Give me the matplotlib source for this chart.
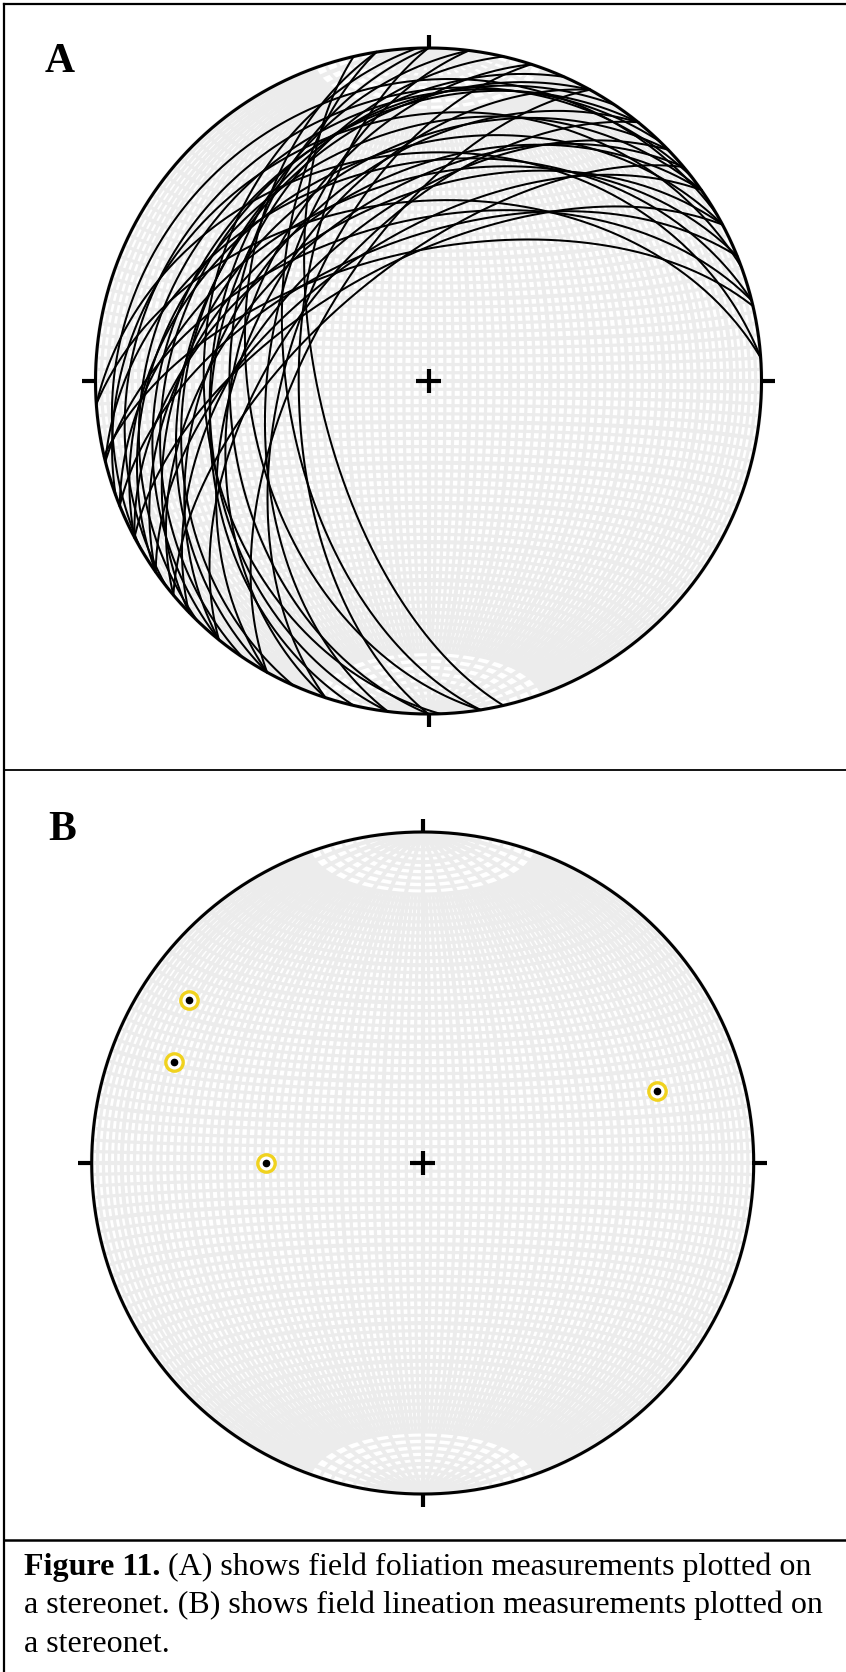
import numpy as np
import matplotlib
matplotlib.use("Agg")
import matplotlib.pyplot as plt
from matplotlib.lines import Line2D

# ---------------- data ----------------
# Panel A: foliation planes (right-hand-rule strike, dip)
foliation_strike = [167, 171, 171, 180, 180, 187, 187, 198, 198, 209, 209, 209,
                    219, 219, 219, 226, 226, 230, 230, 235, 235, 235, 242, 242,
                    242, 248, 248, 257, 256, 256, 266, 266,
                    240, 232, 250, 224, 214, 204, 193, 178]
foliation_dip = [63, 55, 45, 58, 40, 50, 35, 55, 42, 60, 45, 30,
                 55, 40, 25, 50, 35, 62, 45, 55, 40, 28, 60, 45,
                 32, 55, 40, 58, 50, 35, 45, 32,
                 12, 17, 22, 21, 26, 30, 36, 33]
# Panel B: lineations (trend, plunge)
lineation_trend = [305, 292, 270, 73]
lineation_plunge = [15, 20, 51, 27]

panel_labels = ["A", "B"]
caption_bold = "Figure 11."
caption_line1 = " (A) shows field foliation measurements plotted on"
caption_line2 = "a stereonet. (B) shows field lineation measurements plotted on"
caption_line3 = "a stereonet."

# ---------------- figure ----------------
W, H, DPI = 846, 1672, 100
fig = plt.figure(figsize=(W / DPI, H / DPI), dpi=DPI)
fig.patch.set_facecolor("white")
SERIF = ["Liberation Serif", "DejaVu Serif"]


def project(e, n, d):
    """Lower-hemisphere equal-area projection of unit vectors (east, north, down)."""
    s = 1.0 / np.sqrt(1.0 + d)
    return e * s, n * s


def plane_curve(strike, dip, a0=0.0, a1=180.0, num=361):
    s = np.radians(strike)
    dp = np.radians(dip)
    a = np.radians(np.linspace(a0, a1, num))
    sv = np.array([np.sin(s), np.cos(s), 0.0])
    dd = s + np.pi / 2
    dv = np.array([np.cos(dp) * np.sin(dd), np.cos(dp) * np.cos(dd), np.sin(dp)])
    v = np.outer(np.cos(a), sv) + np.outer(np.sin(a), dv)
    return project(v[:, 0], v[:, 1], np.clip(v[:, 2], 0, 1))


def small_circle_ns(c, num=361):
    c = np.radians(c)
    ph = np.linspace(0, np.pi, num)
    e = np.sin(c) * np.cos(ph)
    n = np.full_like(ph, np.cos(c))
    d = np.sin(c) * np.sin(ph)
    return project(e, n, d)


def line_point(trend, plunge):
    t = np.radians(np.asarray(trend, float))
    p = np.radians(np.asarray(plunge, float))
    e = np.cos(p) * np.sin(t)
    n = np.cos(p) * np.cos(t)
    d = np.sin(p)
    return project(e, n, d)


def make_net(cx, cy, R, pad=1.12):
    half = R * pad
    ax = fig.add_axes([(cx - half) / W, (H - (cy + half)) / H, 2 * half / W, 2 * half / H])
    ax.set_xlim(-pad, pad)
    ax.set_ylim(-pad, pad)
    ax.set_aspect("equal")
    ax.axis("off")
    th = np.linspace(0, 2 * np.pi, 721)
    ax.fill(np.cos(th), np.sin(th), color="white", zorder=0)
    grid_col = "#ececec"
    lw_minor, lw_major = 2.3, 2.9
    # meridians (N-S striking great circles)
    for k in range(0, 91, 2):
        major = (k % 10 == 0)
        a0, a1 = (0, 180) if major else (20, 160)
        for stk in (0, 180):
            x, y = plane_curve(stk, k, a0, a1)
            ax.plot(x, y, color=grid_col, lw=lw_major if major else lw_minor,
                    solid_capstyle="butt", zorder=1)
    # small circles about the N-S axis
    for k in range(2, 179, 2):
        x, y = small_circle_ns(k)
        ax.plot(x, y, color=grid_col, lw=lw_major if k % 10 == 0 else lw_minor,
                solid_capstyle="butt", zorder=1)
    # primitive
    ax.plot(np.cos(th), np.sin(th), color="black", lw=2.2, zorder=5)
    # cardinal ticks
    for az in (0, 90, 180, 270):
        a = np.radians(az)
        ax.plot([np.sin(a), 1.04 * np.sin(a)], [np.cos(a), 1.04 * np.cos(a)],
                color="black", lw=3.0, solid_capstyle="butt", zorder=5)
    # centre cross
    ax.plot([-0.037, 0.037], [0, 0], color="black", lw=3.0, solid_capstyle="butt", zorder=6)
    ax.plot([0, 0], [-0.037, 0.037], color="black", lw=3.0, solid_capstyle="butt", zorder=6)
    return ax


# Panel A
axA = make_net(428.5, 381.0, 333.0)
for s, d in zip(foliation_strike, foliation_dip):
    x, y = plane_curve(s, d)
    axA.plot(x, y, color="black", lw=1.45, zorder=4)

# Panel B
axB = make_net(422.7, 1163.0, 331.0)
px, py = line_point(lineation_trend, lineation_plunge)
axB.plot(px, py, ls="none", marker="o", ms=12.5, mfc="white", mec="#f0d21e", mew=2.4, zorder=7)
axB.plot(px, py, ls="none", marker="o", ms=4.5, mfc="black", mec="black", zorder=8)

# Panel labels
fig.text(60 / W, 1 - 72 / H, panel_labels[0], fontsize=30, fontweight="bold", family=SERIF,
         ha="center", va="baseline")
fig.text(62 / W, 1 - 840 / H, panel_labels[1], fontsize=30, fontweight="bold", family=SERIF,
         ha="center", va="baseline")

# Frame lines
def hline(y, lw):
    fig.add_artist(Line2D([4 / W, 1], [1 - y / H, 1 - y / H], color="black", lw=lw,
                          transform=fig.transFigure))

hline(4, 1.6)
hline(770, 1.3)
hline(1540, 1.8)
fig.add_artist(Line2D([4 / W, 4 / W], [1 - 4 / H, 0], color="black", lw=1.6,
                      transform=fig.transFigure))

# Caption
renderer = fig.canvas.get_renderer()
fs0 = 24
tb = fig.text(24 / W, 1 - 1575 / H, caption_bold, fontsize=fs0, fontweight="bold",
              family=SERIF, va="baseline")
tr = fig.text(0, 1 - 1575 / H, caption_line1, fontsize=fs0, family=SERIF, va="baseline")
wb = tb.get_window_extent(renderer).width
wr = tr.get_window_extent(renderer).width
fs = fs0 * 788.0 / (wb + wr)
tb.set_fontsize(fs)
tr.set_fontsize(fs)
wb = tb.get_window_extent(renderer).width
tr.set_x((24 + wb) / W)
fig.text(24 / W, 1 - 1613.5 / H, caption_line2, fontsize=fs, family=SERIF, va="baseline")
fig.text(24 / W, 1 - 1652 / H, caption_line3, fontsize=fs, family=SERIF, va="baseline")

fig.savefig("out.png", dpi=DPI, facecolor="white")
